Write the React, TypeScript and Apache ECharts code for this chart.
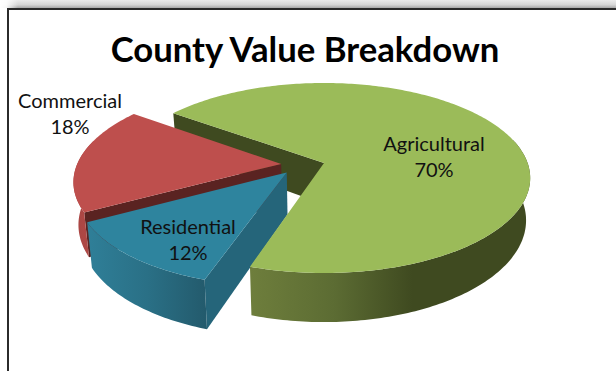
import React, { useEffect, useRef } from "react";
import * as echarts from "echarts";

// County value shares, listed clockwise from the back-left edge of the pie.
const categories = ["Agricultural", "Residential", "Commercial"];
const shares = [70, 12, 18];
const chartTitle = "County Value Breakdown";

// Slice colours: top face, cut face, and the stops of the curved rim.
const topColors = ["#9BBB59", "#2E849E", "#BE4F4D"];
const cutColors = ["#3F4A20", "#25657A", "#5A2321"];
const rimStops = [
  [[0, "#6E7E3C"], [0.3, "#5C6C33"], [0.58, "#3F4A20"], [1, "#3F4A20"]],
  [[0, "#2F7F98"], [0.5, "#2A7086"], [1, "#235A6C"]],
  [[0, "#A84543"], [1, "#B34A47"]],
];

// Exploded offset of each slice on the pie's plane, as a fraction of the radius.
const explodeU = [0, -0.18, -0.21];
const explodeV = [0, 0.1, 0.01];

// Painting order: the commercial slice sits behind the residential one, and
// the agricultural rim and top go over both.
const sliceLayers = [20, 10, 5];

// Where each slice's label sits.
const labelX = [434, 188, 70];
const labelY = [156, 239, 113];

// Perspective view of the pie: pivot, radius, tilt and thickness, in pixels.
const FIRST_ANGLE = 216;
const PIVOT_X = 324;
const PIVOT_Y = 163;
const RADIUS = 203.6;
const TILT_Y = 66.9;
const PERSPECTIVE = -0.158;
const THICKNESS = 41.3;
const BASE_SHRINK = 0.98;

const toRad = (deg: number) => (deg * Math.PI) / 180;

function project(u: number, v: number, base: boolean): number[] {
  const w = 1 + PERSPECTIVE * v;
  const dx = (RADIUS * u) / w;
  const y = (TILT_Y * v + PIVOT_Y) / w;
  return base
    ? [PIVOT_X + dx * BASE_SHRINK, y + THICKNESS / w]
    : [PIVOT_X + dx, y];
}

function arc(i: number, from: number, to: number, base: boolean): number[][] {
  const steps = Math.max(2, Math.ceil(Math.abs(to - from)));
  const pts: number[][] = [];
  for (let k = 0; k <= steps; k++) {
    const t = toRad(from + ((to - from) * k) / steps);
    pts.push(project(explodeU[i] + Math.cos(t), explodeV[i] + Math.sin(t), base));
  }
  return pts;
}

// Part of a slice's sweep that faces the viewer, including the side silhouettes.
function rimRange(a: number, b: number): number[] {
  const frontFrom = -15;
  const frontTo = 195;
  for (const turn of [0, 360]) {
    const lo = Math.max(a, frontFrom + turn);
    const hi = Math.min(b, frontTo + turn);
    if (hi > lo) return [lo, hi];
  }
  return [a, a];
}

function sweepOf(i: number): number[] {
  const total = shares.reduce((s, v) => s + v, 0);
  let start = FIRST_ANGLE;
  for (let k = 0; k < i; k++) start += (shares[k] / total) * 360;
  return [start, start + (shares[i] / total) * 360];
}

function renderSlice(params: any, api: any) {
  const i = params.dataIndex;
  const share = api.value(1);
  const total = shares.reduce((s, v) => s + v, 0);
  const start = sweepOf(i)[0];
  const end = start + (share / total) * 360;
  const cx = explodeU[i];
  const cy = explodeV[i];

  // The large slice is split in depth: its cut face lies behind the others,
  // its rim and top in front of them.
  const layer = sliceLayers[i];
  const cutLayer = i === 0 ? 0 : layer;

  const t0 = toRad(start);
  const cut = [
    project(cx, cy, false),
    project(cx + Math.cos(t0), cy + Math.sin(t0), false),
    project(cx + Math.cos(t0), cy + Math.sin(t0), true),
    project(cx, cy, true),
  ];
  const [rimA, rimB] = rimRange(start, end);
  const rim = [...arc(i, rimA, rimB, false), ...arc(i, rimB, rimA, true)];
  const top = [project(cx, cy, false), ...arc(i, start, end, false)];
  const stops = rimStops[i].map((s) => ({ offset: s[0], color: s[1] }));
  const rimFill = new echarts.graphic.LinearGradient(0, 0, 1, 0, stops as any);

  return {
    type: "group",
    children: [
      { type: "polygon", z2: cutLayer, shape: { points: cut }, style: { fill: cutColors[i] } },
      { type: "polygon", z2: layer + 1, shape: { points: rim }, style: { fill: rimFill } },
      { type: "polygon", z2: layer + 2, shape: { points: top }, style: { fill: topColors[i] } },
      {
        type: "text",
        z2: 40,
        x: labelX[i],
        y: labelY[i],
        style: {
          text: `${categories[i]}\n${share}%`,
          align: "center",
          verticalAlign: "middle",
          fill: "#111",
          font: '20px Lato, "Open Sans", sans-serif',
          lineHeight: 26,
        },
      },
    ],
  };
}

export default function App() {
  const ref = useRef<HTMLDivElement>(null);

  useEffect(() => {
    const chart = echarts.init(ref.current!, undefined, { renderer: "svg" });
    chart.setOption({
      animation: false,
      backgroundColor: "#fff",
      title: {
        text: chartTitle,
        left: 300,
        top: 26,
        textAlign: "center",
        textStyle: {
          fontFamily: "Lato, sans-serif",
          fontWeight: "bold",
          fontSize: 34.7,
          color: "#000",
        },
      },
      graphic: [
        // Soft band above the chart frame, fading out toward the left corner.
        {
          type: "rect",
          z: -1,
          shape: { x: 0, y: 0, width: 616, height: 8 },
          style: {
            fill: new echarts.graphic.LinearGradient(0, 0, 0, 1, [
              { offset: 0, color: "#ECECEC" },
              { offset: 0.6, color: "#D6D6D6" },
              { offset: 1, color: "#A8A8A8" },
            ]),
          },
        },
        {
          type: "rect",
          z: -1,
          shape: { x: 0, y: 0, width: 18, height: 8 },
          style: {
            fill: new echarts.graphic.LinearGradient(0, 0, 1, 0, [
              { offset: 0, color: "#FFFFFF" },
              { offset: 0.35, color: "rgba(255,255,255,0.9)" },
              { offset: 1, color: "rgba(255,255,255,0)" },
            ]),
          },
        },
        // Chart frame: only its left and top edges fall inside the view.
        {
          type: "polyline",
          z: 0,
          shape: { points: [[8, 371], [8, 9], [616, 9]] },
          style: { stroke: "#2B2B2B", lineWidth: 2, fill: "none" },
        },
      ],
      series: [
        {
          type: "custom",
          coordinateSystem: "none",
          silent: true,
          renderItem: renderSlice,
          data: categories.map((name, i) => ({ name, value: [i, shares[i]] })),
        },
      ],
    });
    return () => chart.dispose();
  }, []);

  return (
    <div
      ref={ref}
      style={{ position: "fixed", left: 0, top: 0, width: 616, height: 371 }}
    />
  );
}
